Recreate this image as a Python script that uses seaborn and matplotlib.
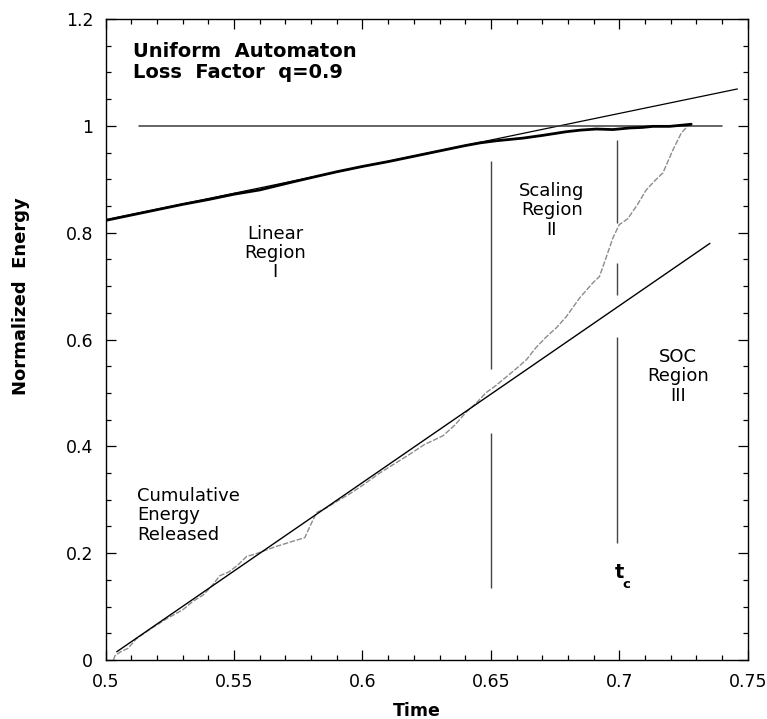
import numpy as np
import pandas as pd
import matplotlib
matplotlib.use("Agg")
import matplotlib.pyplot as plt
from matplotlib.ticker import MultipleLocator, FixedLocator, FixedFormatter
import seaborn as sns

# --- data -------------------------------------------------------------------
# Normalized energy stored in the automaton
energy_t = [0.500, 0.510, 0.520, 0.530, 0.540, 0.550, 0.560, 0.566, 0.572,
            0.580, 0.590, 0.600, 0.610, 0.620, 0.630, 0.640, 0.6457, 0.652,
            0.6625, 0.670, 0.6794, 0.685, 0.691, 0.6975, 0.704, 0.709,
            0.7131, 0.7196, 0.7261, 0.728]
energy_e = [0.823, 0.833, 0.843, 0.853, 0.862, 0.872, 0.880, 0.887, 0.894,
            0.903, 0.914, 0.924, 0.933, 0.943, 0.953, 0.963, 0.968, 0.972,
            0.977, 0.982, 0.989, 0.992, 0.994, 0.993, 0.996, 0.997,
            0.999, 0.999, 1.002, 1.003]

# Cumulative energy released
released_t = [0.503, 0.5036, 0.506, 0.5087, 0.512, 0.518, 0.524, 0.530, 0.534,
              0.538, 0.541, 0.5445, 0.548, 0.5515, 0.5549, 0.558, 0.562, 0.566,
              0.570, 0.574, 0.5775, 0.580, 0.5821, 0.586, 0.590, 0.595, 0.600,
              0.6067, 0.612, 0.618, 0.624, 0.6314, 0.636, 0.640, 0.6445, 0.648,
              0.652, 0.656, 0.660, 0.6638, 0.6676, 0.6716, 0.6755, 0.6794,
              0.6846, 0.6897, 0.6923, 0.695, 0.6975, 0.700, 0.7033, 0.707,
              0.7105, 0.714, 0.717, 0.7209, 0.7241, 0.7267, 0.728]
released_e = [0.000, 0.008, 0.016, 0.022, 0.040, 0.060, 0.078, 0.094, 0.110,
              0.122, 0.137, 0.158, 0.165, 0.178, 0.194, 0.198, 0.205, 0.212,
              0.218, 0.224, 0.229, 0.255, 0.276, 0.285, 0.297, 0.311, 0.327,
              0.350, 0.366, 0.384, 0.403, 0.420, 0.440, 0.462, 0.482, 0.500,
              0.514, 0.530, 0.546, 0.562, 0.585, 0.605, 0.622, 0.643,
              0.678, 0.706, 0.718, 0.755, 0.790, 0.815, 0.826, 0.852,
              0.880, 0.898, 0.912, 0.955, 0.986, 1.000, 1.003]

# Straight-line fits
energy_fit_t = [0.500, 0.746]
energy_fit_e = [0.824, 1.069]
released_fit_t = [0.5043, 0.7353]
released_fit_e = [0.0155, 0.780]

# Saturation level
level_t = [0.5129, 0.740]
level_e = [1.0, 1.0]

# Region boundaries (time, list of vertical segments)
scaling_t = 0.650
scaling_segments = [(0.545, 0.934), (0.135, 0.425)]
critical_t = 0.699
critical_segments = [(0.818, 0.974), (0.683, 0.744), (0.219, 0.604)]

xtick_values = [0.5, 0.55, 0.6, 0.65, 0.7, 0.75]
xtick_labels = ["0.5", "0.55", "0.6", "0.65", "0.7", "0.75"]
ytick_values = [0.0, 0.2, 0.4, 0.6, 0.8, 1.0, 1.2]
ytick_labels = ["0", "0.2", "0.4", "0.6", "0.8", "1", "1.2"]

# --- figure -----------------------------------------------------------------
sns.set_style("ticks")
plt.rcParams["font.family"] = ["DejaVu Sans"]
plt.rcParams["text.color"] = "black"
plt.rcParams["axes.labelcolor"] = "black"
plt.rcParams["xtick.color"] = "black"
plt.rcParams["ytick.color"] = "black"

fig = plt.figure(figsize=(7.67, 7.19), dpi=100)
ax = fig.add_axes([0.1378, 0.0820, 0.8370, 0.8916])

released = pd.DataFrame({"t": released_t, "e": released_e})
energy = pd.DataFrame({"t": energy_t, "e": energy_e})

sns.lineplot(data=released, x="t", y="e", ax=ax, color="#8c8c8c",
             linewidth=1.0, linestyle=(0, (4, 1.2)), estimator=None, sort=False)
sns.lineplot(x=released_fit_t, y=released_fit_e, ax=ax, color="black",
             linewidth=1.0, estimator=None)
sns.lineplot(x=energy_fit_t, y=energy_fit_e, ax=ax, color="black",
             linewidth=0.9, estimator=None)
sns.lineplot(x=level_t, y=level_e, ax=ax, color="#3a3a3a",
             linewidth=1.1, estimator=None)
sns.lineplot(data=energy, x="t", y="e", ax=ax, color="black",
             linewidth=2.0, estimator=None, sort=False)

for lo, hi in scaling_segments:
    ax.vlines(scaling_t, lo, hi, color="#444444", linewidth=1.0)
for lo, hi in critical_segments:
    ax.vlines(critical_t, lo, hi, color="#444444", linewidth=1.0)

ax.set_xlim(0.5, 0.75)
ax.set_ylim(0.0, 1.2)
ax.xaxis.set_major_locator(FixedLocator(xtick_values))
ax.xaxis.set_major_formatter(FixedFormatter(xtick_labels))
ax.yaxis.set_major_locator(FixedLocator(ytick_values))
ax.yaxis.set_major_formatter(FixedFormatter(ytick_labels))
ax.xaxis.set_minor_locator(MultipleLocator(0.01))
ax.yaxis.set_minor_locator(MultipleLocator(0.05))
ax.tick_params(which="both", direction="in", top=True, right=True,
               color="black", width=0.9)
ax.tick_params(which="major", length=7, labelsize=12.5, pad=9)
ax.tick_params(which="minor", length=3.5)
for s in ax.spines.values():
    s.set_visible(True)
    s.set_linewidth(1.0)
    s.set_color("black")

ax.set_xlabel("Time", fontsize=12.5, fontweight="bold")
ax.set_ylabel("Normalized  Energy", fontsize=13, fontweight="bold")
ax.xaxis.set_label_coords(0.484, -0.066)
ax.yaxis.set_label_coords(-0.118, 0.568)

ax.text(0.5107, 1.157, "Uniform  Automaton\nLoss  Factor  q=0.9",
        fontsize=14, fontweight="bold", ha="left", va="top", linespacing=1.15)
ax.text(0.5659, 0.815, "Linear\nRegion\nI", fontsize=13, ha="center",
        va="top", linespacing=1.1)
ax.text(0.6737, 0.895, "Scaling\nRegion\nII", fontsize=13, ha="center",
        va="top", linespacing=1.1)
ax.text(0.7230, 0.584, "SOC\nRegion\nIII", fontsize=13, ha="center",
        va="top", linespacing=1.1)
ax.text(0.5122, 0.324, "Cumulative\nEnergy\nReleased", fontsize=13,
        ha="left", va="top", linespacing=1.1)
ax.text(0.7001, 0.182, "t", fontsize=14, fontweight="bold", ha="center",
        va="top")
ax.text(0.7027, 0.153, "c", fontsize=9.5, fontweight="bold", ha="center",
        va="top")

fig.savefig("out.png", dpi=100)
